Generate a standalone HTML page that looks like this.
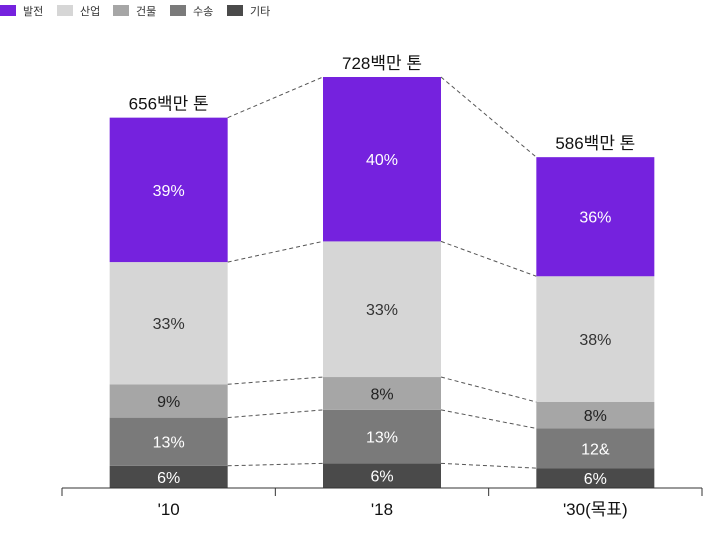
<!DOCTYPE html>
<html><head><meta charset="utf-8">
<style>
body{margin:0;background:#fff;font-family:"Liberation Sans","Noto Sans CJK KR",sans-serif;}
svg text{font-family:"Liberation Sans","Noto Sans CJK KR",sans-serif;}
</style></head>
<body>
<svg width="712" height="531" viewBox="0 0 712 531" xmlns="http://www.w3.org/2000/svg">
<g id="legend"></g>
<g id="links"></g>
<g id="bars"></g>
<g id="axis"></g>
</svg>
<script>
const categories = ["'10", "'18", "'30(목표)"];
const totals = [656, 728, 586];
const totalLabels = ["656백만 톤", "728백만 톤", "586백만 톤"];
const seriesNames = ["기타", "수송", "건물", "산업", "발전"];
const shareOther = [6, 6, 6];
const shareTransport = [13, 13, 12];
const shareBuilding = [9, 8, 8];
const shareIndustry = [33, 33, 38];
const sharePower = [39, 40, 36];
const shareLabels = [["6%","13%","9%","33%","39%"],["6%","13%","8%","33%","40%"],["6%","12&","8%","38%","36%"]];

const colors = ["#4a4a4a","#7a7a7a","#a6a6a6","#d6d6d6","#7522de"];
const textColors = ["#fff","#fff","#222","#333","#fff"];
const NS = "http://www.w3.org/2000/svg";
const baseY = 488, scale = 411/728, barW = 118;
const x0 = 62, x1 = 702;
const band = (x1 - x0) / categories.length;
function xCenter(i){ return x0 + band*(i+0.5); }
function yVal(v){ return baseY - v*scale; }
function mk(tag, attrs, parent){ const e=document.createElementNS(NS,tag); for(const k in attrs) e.setAttribute(k,attrs[k]); parent.appendChild(e); return e; }

const shares = [shareOther, shareTransport, shareBuilding, shareIndustry, sharePower];
const barsG = document.getElementById('bars');
const linksG = document.getElementById('links');
const bounds = [];
categories.forEach((c,i)=>{
  let cum = 0; const b=[baseY];
  const xl = xCenter(i) - barW/2;
  shares.forEach((s,k)=>{
    const yb = yVal(totals[i]*cum/100);
    cum += s[i];
    const yt = yVal(totals[i]*cum/100);
    b.push(yt);
    const r = mk('rect',{x:xl,y:yt,width:barW,height:yb-yt,fill:colors[k]},barsG);
    
    
    const t = mk('text',{x:xCenter(i),y:(yt+yb)/2+6,'text-anchor':'middle','font-size':16,fill:textColors[k]},barsG);
    t.textContent = shareLabels[i][k];
    
    
  });
  bounds.push(b);
  const tl = mk('text',{x:xCenter(i),y:yVal(totals[i])-8,'text-anchor':'middle','font-size':17,fill:'#111'},barsG);
  tl.textContent = totalLabels[i];
  
  
});
for(let i=0;i<categories.length-1;i++){
  for(let k=1;k<bounds[i].length;k++){
    const l = mk('line',{x1:xCenter(i)+barW/2,y1:bounds[i][k],x2:xCenter(i+1)-barW/2,y2:bounds[i+1][k],stroke:'#555','stroke-width':1,'stroke-dasharray':'4,3'},linksG);
    
    
  }
}
const axisG = document.getElementById('axis');
const al = mk('line',{x1:x0,y1:baseY,x2:x1,y2:baseY,stroke:'#333','stroke-width':1},axisG);


for(let i=0;i<=categories.length;i++){
  const tk = mk('line',{x1:x0+band*i,y1:baseY,x2:x0+band*i,y2:baseY+8,stroke:'#333'},axisG);
  
  
}
categories.forEach((c,i)=>{
  const t = mk('text',{x:xCenter(i),y:baseY+27,'text-anchor':'middle','font-size':17,fill:'#111'},axisG);
  t.textContent = c;
  
  
});
const legG = document.getElementById('legend');
const legOrder = [4,3,2,1,0];
const legX = [0,57,113,170,227];
legOrder.forEach((k,j)=>{
  const r = mk('rect',{x:legX[j],y:5,width:16,height:11,fill:colors[k]},legG);
  
  
  const t = mk('text',{x:legX[j]+23,y:15,'font-size':11,fill:'#333'},legG);
  t.textContent = seriesNames[k];
  
  
});
</script>
</body></html>
